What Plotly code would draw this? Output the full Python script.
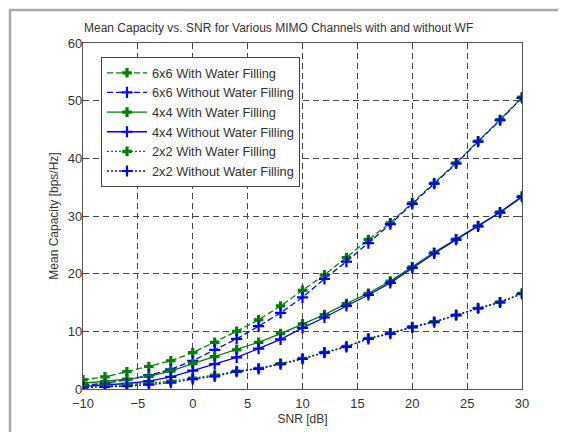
import plotly.graph_objects as go

snr_db = [-10, -8, -6, -4, -2, 0, 2, 4, 6, 8, 10, 12, 14, 16, 18, 20, 22, 24, 26, 28, 30]

cap_6x6_wf = [1.6, 2.1, 3.0, 3.9, 4.9, 6.3, 8.1, 10.0, 12.0, 14.4, 17.1, 19.8, 22.8, 25.9, 28.8, 32.3, 35.7, 39.2, 43.0, 46.7, 50.6]
cap_6x6_nowf = [0.7, 0.95, 1.6, 2.4, 3.4, 4.9, 6.8, 8.7, 10.9, 13.2, 15.9, 19.1, 22.1, 25.3, 28.6, 32.1, 35.6, 39.1, 42.9, 46.6, 50.5]
cap_4x4_wf = [1.0, 1.3, 1.7, 2.2, 3.1, 4.4, 5.6, 6.8, 8.1, 9.6, 11.3, 12.9, 14.8, 16.6, 18.7, 21.2, 23.7, 26.0, 28.3, 30.7, 33.4]
cap_4x4_nowf = [0.45, 0.65, 0.95, 1.35, 2.1, 3.2, 4.3, 5.5, 7.0, 8.6, 10.6, 12.4, 14.4, 16.3, 18.4, 21.0, 23.5, 25.9, 28.2, 30.6, 33.3]
cap_2x2_wf = [0.4, 0.55, 0.75, 1.0, 1.35, 1.9, 2.4, 3.1, 3.6, 4.4, 5.3, 6.35, 7.4, 8.8, 9.7, 10.8, 11.7, 12.8, 14.0, 15.1, 16.6]
cap_2x2_nowf = [0.25, 0.35, 0.5, 0.75, 1.1, 1.7, 2.2, 3.0, 3.5, 4.3, 5.2, 6.3, 7.3, 8.7, 9.6, 10.7, 11.6, 12.8, 14.0, 15.0, 16.5]

series_names = ["6x6 With Water Filling", "6x6 Without Water Filling",
                "4x4 With Water Filling", "4x4 Without Water Filling",
                "2x2 With Water Filling", "2x2 Without Water Filling"]

x_ticks = [-10, -5, 0, 5, 10, 15, 20, 25, 30]
y_ticks = [0, 10, 20, 30, 40, 50, 60]

GREEN = "#008000"
BLUE = "#0000ff"
TXT = "#333333"

series = [
    (series_names[0], cap_6x6_wf, GREEN, "6px,3px", "cross"),
    (series_names[1], cap_6x6_nowf, BLUE, "6px,3px", "cross-thin-open"),
    (series_names[2], cap_4x4_wf, GREEN, "solid", "cross"),
    (series_names[3], cap_4x4_nowf, BLUE, "solid", "cross-thin-open"),
    (series_names[4], cap_2x2_wf, GREEN, "2px,2px", "cross"),
    (series_names[5], cap_2x2_nowf, BLUE, "2px,2px", "cross-thin-open"),
]

fig = go.Figure()
for name, vals, color, dash, sym in series:
    if sym == "cross":
        marker = dict(symbol=sym, size=8, color=color, line=dict(width=0))
    else:
        marker = dict(symbol=sym, size=8, color=color, line=dict(width=2.2, color=color))
    fig.add_trace(go.Scatter(
        x=snr_db, y=vals, name=name, mode="lines+markers",
        line=dict(color=color, width=1.3, dash=dash),
        marker=marker,
    ))

# page pixel -> paper coordinates (plot area spans x 83..522, y 43..389 on the page;
# the page body adds an 8 px offset, so the figure itself is 558x424)
def px(xp):
    return (xp - 83) / 439

def py(yp):
    return (389 - yp) / 346

font_family = "Liberation Sans, Arial, sans-serif"

fig.update_layout(
    width=558, height=424,
    margin=dict(l=75, r=44, t=35, b=43, autoexpand=False),
    paper_bgcolor="white", plot_bgcolor="white",
    font=dict(family=font_family, size=13, color=TXT),
    showlegend=True,
    legend=dict(
        x=px(101), y=py(57), xanchor="left", yanchor="top",
        bgcolor="white", bordercolor="#444444", borderwidth=1,
        font=dict(size=12.8, color=TXT),
        tracegroupgap=0, itemwidth=40,
    ),
    annotations=[
        dict(text="Mean Capacity vs. SNR for Various MIMO Channels with and without WF",
             xref="paper", yref="paper", x=px(278), y=py(28),
             xanchor="center", yanchor="middle", showarrow=False,
             font=dict(size=12, color=TXT)),
    ],
    shapes=[
        dict(type="rect", xref="paper", yref="paper",
             x0=px(10), x1=px(640), y0=py(480), y1=py(10),
             line=dict(color="#a8a8a8", width=2.5), fillcolor="rgba(0,0,0,0)", layer="below"),
    ],
)

fig.update_xaxes(
    range=[-10, 30], tickvals=x_ticks, ticks="inside", ticklen=4, tickcolor="#444444",
    showline=True, linecolor="#555555", linewidth=1.2, mirror="ticks",
    showgrid=True, gridcolor="#444444", griddash="6px,4px", gridwidth=1,
    zeroline=False, ticklabelstandoff=2,
    tickfont=dict(size=13, color=TXT),
    title=dict(text="SNR [dB]", standoff=4, font=dict(size=12, color=TXT)),
)
fig.update_yaxes(
    range=[0, 60], tickvals=y_ticks, ticks="inside", ticklen=4, tickcolor="#444444",
    showline=True, linecolor="#555555", linewidth=1.2, mirror="ticks",
    showgrid=True, gridcolor="#444444", griddash="6px,4px", gridwidth=1,
    zeroline=False, ticklabelstandoff=-3,
    tickfont=dict(size=13, color=TXT),
    title=dict(text="Mean Capacity [bps/Hz]", standoff=6, font=dict(size=12, color=TXT)),
)

fig.write_html("out.html")
